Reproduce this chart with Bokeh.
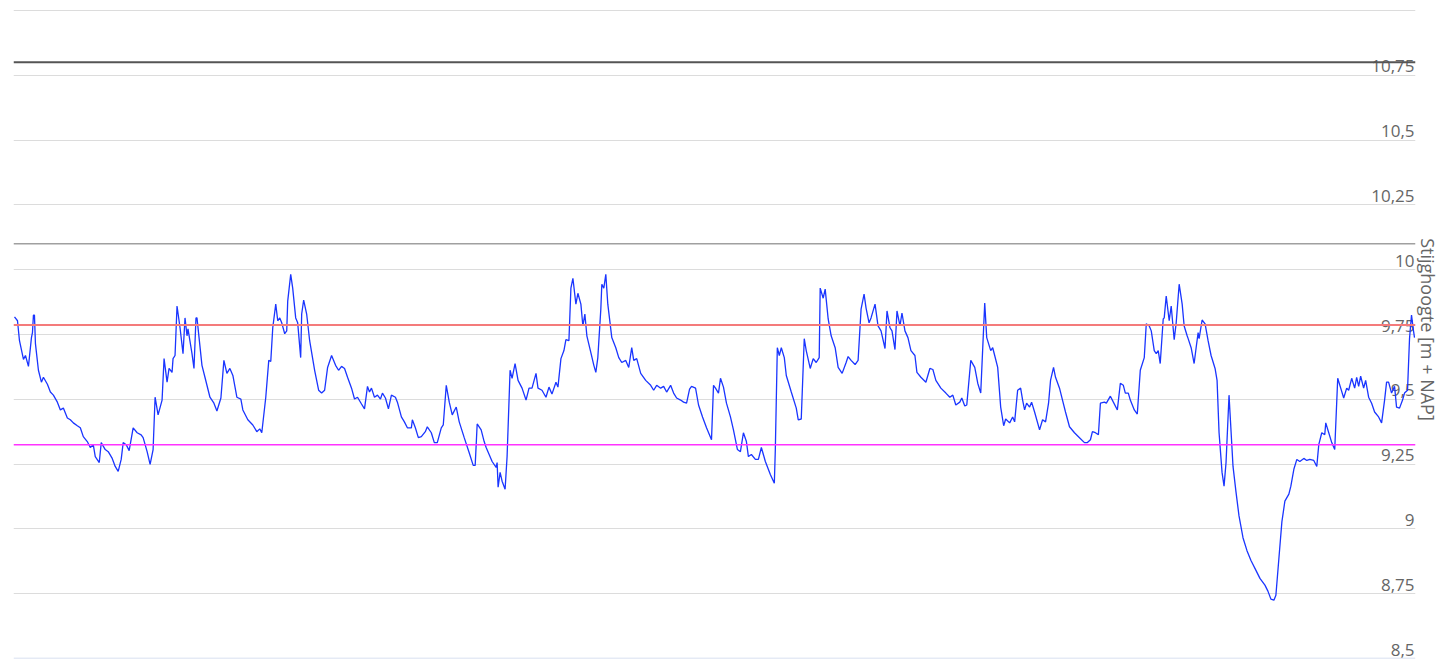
from bokeh.plotting import figure
from bokeh.models import Range1d, FixedTicker, Span, Grid, ColumnDataSource, LinearAxis
from bokeh.core.properties import value
from bokeh.embed import file_html
from bokeh.resources import INLINE

# ---- data: measured groundwater head (m + NAP) per day index ----
dag_a = [1,4,6,10,12,15,18,19,20,21,22,25,28,30,34,37,40,44,47,50,
         54,57,60,64,67,70,74,77,80,82,86,88,92,95,99,102,105,108,110,113,
         116,120,124,128,130,134,137,140,142,145,149,151,154,156,159,160,162,164,167,170,
         172,174,175,179,181,183,184,189,192,197,201,204,208,211,214,217,220,224,228,230,235]
hoogte_a = [9.818,9.803,9.726,9.654,9.669,9.627,9.738,9.757,9.825,9.825,9.715,9.612,9.566,9.585,9.558,9.528,9.516,9.489,9.459,9.466,
            9.428,9.421,9.409,9.398,9.390,9.356,9.337,9.314,9.325,9.279,9.256,9.333,9.306,9.298,9.272,9.241,9.222,9.268,9.333,9.325,
            9.302,9.390,9.371,9.363,9.352,9.298,9.249,9.306,9.508,9.440,9.497,9.657,9.566,9.619,9.604,9.657,9.669,9.860,9.776,9.676,
            9.814,9.745,9.772,9.676,9.619,9.814,9.814,9.631,9.585,9.508,9.485,9.455,9.505,9.650,9.600,9.619,9.592,9.508,9.501,9.459,9.421]

dag_b = [240,244,247,249,253,256,258,260,263,265,267,269,272,274,275,278,280,283,285,288,
         289,291,294,297,302,306,309,312,315,319,323,326,329,332,335,339,342,345,349,352,
         355,357,359,362,365,368,370,373,376,379,383,385,389,392,395,399,400,403,406,409,
         413,415,419,422,425,429,431,434,437,440,444,447,452,457,461,463,465,469,472,474]
hoogte_b = [9.401,9.375,9.386,9.371,9.508,9.650,9.646,9.776,9.867,9.803,9.814,9.795,9.753,9.764,9.879,9.982,9.929,9.814,9.795,9.661,
            9.829,9.883,9.829,9.726,9.612,9.535,9.524,9.535,9.623,9.669,9.631,9.612,9.627,9.619,9.585,9.543,9.501,9.508,9.482,9.463,
            9.550,9.528,9.543,9.508,9.516,9.501,9.524,9.505,9.463,9.516,9.508,9.489,9.432,9.413,9.390,9.390,9.421,9.390,9.352,9.356,
            9.375,9.394,9.371,9.333,9.333,9.390,9.401,9.554,9.489,9.440,9.470,9.413,9.352,9.294,9.245,9.245,9.405,9.382,9.337,9.314]

dag_c = [477,480,484,485,486,488,490,493,495,498,500,503,506,510,514,517,520,524,526,530,
         534,537,540,544,546,549,552,554,557,559,561,564,566,569,571,573,575,579,582,584,
         586,589,590,592,594,596,600,604,607,610,614,617,620,622,625,629,634,639,642,645,
         649,652,655,659,662,665,669,672,675,678,680,684,687,691,695,700,702,704,707]
hoogte_c = [9.287,9.260,9.237,9.256,9.161,9.218,9.184,9.153,9.279,9.612,9.581,9.638,9.573,9.543,9.497,9.543,9.543,9.600,9.543,9.535,
            9.508,9.547,9.520,9.566,9.547,9.657,9.688,9.730,9.726,9.929,9.967,9.867,9.909,9.867,9.783,9.829,9.745,9.680,9.631,9.604,
            9.661,9.848,9.944,9.929,9.982,9.867,9.738,9.699,9.661,9.642,9.650,9.623,9.699,9.650,9.657,9.600,9.573,9.554,9.535,9.554,
            9.543,9.550,9.528,9.554,9.524,9.505,9.497,9.489,9.485,9.539,9.550,9.543,9.478,9.432,9.390,9.344,9.554,9.543,9.524]

dag_d = [709,712,715,719,722,726,729,732,735,737,740,744,747,750,754,759,763,764,766,768,
         770,773,775,780,785,787,790,793,795,799,802,805,808,809,812,814,817,820,824,827,
         831,835,837,840,844,847,850,853,855,858,860,864,867,870,874,876,879,881,884,886,
         889,891,894,897,900,904,906,910,915,919,922,925,930,935,939,942]
hoogte_d = [9.581,9.547,9.485,9.432,9.382,9.306,9.298,9.371,9.337,9.279,9.287,9.268,9.268,9.314,9.260,9.210,9.176,9.306,9.699,9.669,
            9.699,9.661,9.592,9.528,9.466,9.421,9.424,9.734,9.688,9.619,9.657,9.642,9.661,9.929,9.890,9.925,9.810,9.745,9.699,9.623,
            9.600,9.642,9.665,9.650,9.634,9.650,9.848,9.906,9.852,9.795,9.814,9.867,9.783,9.764,9.696,9.841,9.776,9.764,9.692,9.841,
            9.783,9.833,9.764,9.738,9.688,9.669,9.604,9.585,9.566,9.619,9.615,9.573,9.543,9.524,9.508,9.516]

dag_e = [945,949,951,954,956,960,964,967,970,974,976,980,982,984,987,990,993,995,999,1002,
         1004,1007,1010,1012,1014,1016,1019,1021,1024,1029,1032,1035,1038,1040,1043,1045,1049,1052,1055,1059,
         1064,1069,1074,1077,1080,1082,1085,1088,1090,1094,1096,1100,1103,1107,1110,1113,1115,1118,1120,1124,
         1127,1130,1134,1136,1139,1141,1144,1146,1148,1150,1153,1154,1156,1159,1161,1164,1166,1169,1172,1174,1177]
hoogte_e = [9.478,9.489,9.505,9.474,9.478,9.650,9.623,9.562,9.524,9.871,9.738,9.688,9.699,9.669,9.623,9.470,9.398,9.424,9.409,9.432,
            9.413,9.535,9.543,9.497,9.459,9.485,9.470,9.489,9.451,9.382,9.421,9.413,9.485,9.573,9.623,9.585,9.543,9.497,9.451,9.394,
            9.371,9.352,9.333,9.333,9.344,9.375,9.371,9.363,9.485,9.489,9.485,9.512,9.489,9.459,9.562,9.554,9.524,9.524,9.497,9.459,
            9.443,9.612,9.661,9.791,9.783,9.764,9.688,9.676,9.688,9.638,9.810,9.814,9.898,9.803,9.860,9.730,9.795,9.944,9.867,9.783,9.745]

dag_f = [1178,1181,1184,1186,1188,1189,1192,1195,1198,1201,1205,1207,1209,1212,1214,1216,1219,1220,1223,1226,
         1229,1233,1237,1241,1246,1250,1255,1258,1261,1264,1266,1269,1272,1275,1279,1281,1284,1287,1290,1294,
         1297,1300,1304,1307,1309,1312,1315,1316,1319,1322,1325,1328,1331,1334,1337,1339,1342,1345,1347,1349,
         1351,1354,1356,1359,1362,1365,1369,1372,1375,1377,1379,1382,1385,1387,1390,1393,1395,1398,1400,1402,1404,1405]
hoogte_f = [9.734,9.699,9.638,9.699,9.757,9.734,9.806,9.791,9.726,9.669,9.619,9.573,9.371,9.218,9.165,9.256,9.516,9.447,9.241,9.142,
            9.050,8.966,8.916,8.878,8.840,8.809,8.783,8.760,8.729,8.725,8.744,8.886,9.027,9.107,9.134,9.165,9.230,9.268,9.260,9.272,
            9.264,9.268,9.264,9.241,9.325,9.371,9.363,9.409,9.371,9.333,9.306,9.581,9.543,9.505,9.543,9.535,9.581,9.543,9.585,9.550,
            9.589,9.543,9.573,9.508,9.485,9.451,9.432,9.409,9.497,9.566,9.566,9.524,9.550,9.470,9.466,9.497,9.524,9.535,9.734,9.825,9.764,9.738]

# reference levels
bovengrens = 9.787      # red line
ondergrens = 9.325      # magenta line
niveau_donker = 10.80   # dark grey line
niveau_grijs = 10.10    # grey line

# axis ticks
tick_values = [8.5, 8.75, 9.0, 9.25, 9.5, 9.75, 10.0, 10.25, 10.5, 10.75]
tick_labels = ["8,5", "8,75", "9", "9,25", "9,5", "9,75", "10", "10,25", "10,5", "10,75"]
grid_values = tick_values + [11.0]
y_min, y_max = 8.5, 11.0386
x_min, x_max = 0, 1406
as_titel = "Stijghoogte [m + NAP]"

dag = dag_a + dag_b + dag_c + dag_d + dag_e + dag_f
hoogte = hoogte_a + hoogte_b + hoogte_c + hoogte_d + hoogte_e + hoogte_f
assert len(dag) == len(hoogte)

FONT = "Open Sans"
GREY = "#666666"

p = figure(width=1442, height=659, output_backend="svg", toolbar_location=None,
           x_range=Range1d(x_min, x_max), y_range=Range1d(y_min, y_max),
           x_axis_type=None, y_axis_type=None,
           min_border_left=13, min_border_right=21, min_border_top=0, min_border_bottom=1)
p.outline_line_color = None
p.background_fill_color = "white"
p.border_fill_color = "white"

p.add_layout(Grid(dimension=1, ticker=FixedTicker(ticks=grid_values),
                  grid_line_color="#dcdcdc", grid_line_width=1))

p.add_layout(Span(location=y_min, dimension="width", line_color="#ccd6eb", line_width=1.5))
p.add_layout(Span(location=niveau_donker, dimension="width", line_color="#555555", line_width=2))
p.add_layout(Span(location=niveau_grijs, dimension="width", line_color="#a0a0a0", line_width=1.5))
p.add_layout(Span(location=bovengrens, dimension="width", line_color="#f47b7b", line_width=2))
p.add_layout(Span(location=ondergrens, dimension="width", line_color="#ff33ff", line_width=1.5))

lab_src = ColumnDataSource(dict(x=[p.x_range.end] * len(tick_values), y=tick_values, t=tick_labels))
p.text(x="x", y="y", text="t", source=lab_src, text_align="right", text_baseline="alphabetic",
       x_offset=-1, y_offset=-9, text_font=value(FONT), text_font_size="17px", text_color=GREY)

p.line(dag, hoogte, line_color="#1a35ff", line_width=1.3)

ax = LinearAxis(ticker=FixedTicker(ticks=[]), axis_label=as_titel,
                axis_label_text_font=FONT, axis_label_text_font_size="18px",
                axis_label_text_font_style="normal", axis_label_text_color=GREY,
                axis_label_standoff=0, axis_line_color=None,
                major_tick_line_color=None, minor_tick_line_color=None,
                major_tick_out=0, major_tick_in=0, major_label_text_font_size="0px")
p.add_layout(ax, "right")

open("out.html", "w").write(file_html(p, INLINE))
